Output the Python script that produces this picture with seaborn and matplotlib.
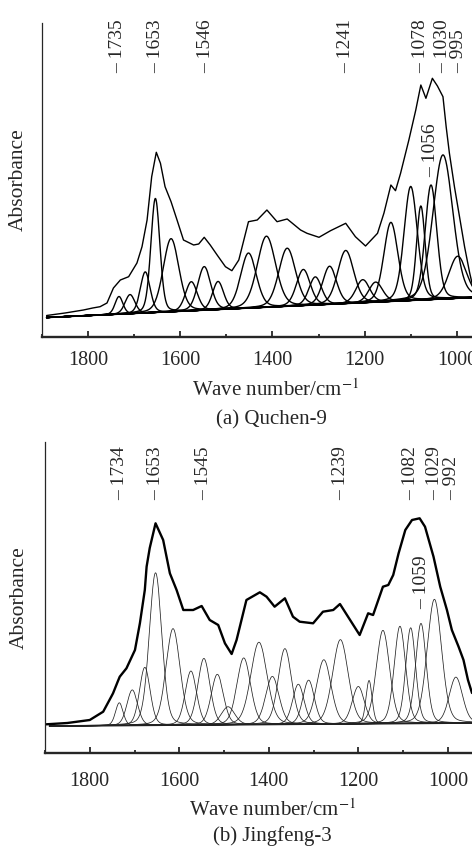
import numpy as np
import pandas as pd
import matplotlib
matplotlib.use('Agg')
import matplotlib.pyplot as plt
import seaborn as sns
from matplotlib.ticker import MultipleLocator

# ---- panel (a) Quchen-9 ----
env_a_wn = [1890, 1850, 1810, 1790, 1774, 1759, 1745, 1730, 1712, 1694, 1683, 1672, 1662, 1652,
            1643, 1633, 1620, 1607, 1593, 1571, 1560, 1548, 1535, 1520, 1502, 1488, 1473, 1452,
            1433, 1412, 1390, 1368, 1339, 1325, 1299, 1274, 1241, 1220, 1198, 1172, 1158, 1143,
            1133, 1122, 1104, 1089, 1078, 1067, 1053, 1042, 1030, 1023, 1016, 1005, 994, 983, 972, 965]
env_a_abs = [21.5, 24, 27, 29, 30.3, 34, 49, 57, 60.3, 74, 90.3, 117, 160.3, 184.7,
             173.7, 150.3, 135.3, 117, 97, 92, 93, 99.7, 92, 82, 70.3, 66.3, 77, 115.3,
             117, 127, 115.3, 118, 107, 103.7, 99.7, 106.3, 113.7, 100.3, 91, 103.7, 124, 152,
             146.3, 163.7, 197, 227, 252, 238.7, 258.7, 251, 240.3, 210, 183.7, 150, 120, 90, 64, 50]
base_a_wn = [1890, 965]
base_a_abs = [19.5, 39.5]
peak_a_center = [1733, 1709, 1676, 1654, 1620, 1576, 1548, 1518, 1452, 1413, 1368, 1333,
                 1307, 1276, 1241, 1204, 1176, 1143, 1100, 1078, 1056, 1030, 998]
peak_a_height = [17.6, 19, 41, 114, 73, 29, 43.5, 28, 55, 71, 58, 36,
                 28, 38, 53, 23, 20, 79, 114, 94, 114.5, 144, 42]
peak_a_fwhm = [20, 25, 25, 23, 40, 30, 33, 28, 40, 47, 43, 35,
               32, 35, 41, 35, 35, 36, 34, 22, 30, 51, 45]
label_a_wn = [1735, 1653, 1546, 1241, 1078, 1030, 995]
label_a_text = ['1735', '1653', '1546', '1241', '1078', '1030', '995']

# ---- panel (b) Jingfeng-3 ----
env_b_wn = [1897, 1850, 1800, 1770, 1752, 1748, 1737, 1733, 1718, 1699, 1688, 1677, 1673, 1666,
            1653, 1636, 1621, 1606, 1591, 1569, 1550, 1532, 1513, 1498, 1483, 1472, 1450, 1420,
            1405, 1387, 1364, 1346, 1331, 1301, 1279, 1256, 1241, 1223, 1197, 1178, 1167, 1145,
            1133, 1122, 1110, 1095, 1080, 1063, 1051, 1032, 1017, 1002, 991, 976, 965, 955, 946]
env_b_abs = [28.7, 30, 33, 41.3, 56.3, 59.7, 72, 76.3, 84.7, 103, 129.7, 163, 186.3, 205,
             229.7, 213, 179.7, 163, 143, 143, 147, 133, 128, 109.7, 99, 113, 153, 160.7,
             156.3, 146.3, 154.7, 136.3, 131.3, 129.7, 141.3, 143, 149, 136.3, 118, 139.7, 138, 166.3,
             168, 178, 199.7, 223, 233, 234.7, 226.3, 196.3, 166.3, 143, 123, 106.3, 93, 73, 60]
base_b_wn = [1890, 946]
base_b_abs = [27, 30]
peak_b_center = [1734, 1705, 1677, 1653, 1614, 1574, 1545, 1515, 1491, 1456, 1422, 1392, 1364,
                 1334, 1311, 1277, 1240, 1200, 1176, 1145, 1107, 1083, 1060, 1030, 982]
peak_b_height = [22.7, 35.5, 58, 152.5, 96.5, 54, 66.5, 50.5, 18, 66.7, 82.3, 48, 75.7,
                 40, 44, 64.3, 84.3, 37.3, 43.3, 93.3, 97.3, 95.7, 100, 124, 46]
peak_b_fwhm = [20, 28, 28, 33, 37, 30, 32, 32, 35, 36, 43, 35, 35,
               30, 30, 38, 41, 32, 16, 35, 30, 26, 28, 38, 35]
label_b_wn = [1734, 1653, 1545, 1239, 1082, 1029, 992]
label_b_text = ['1734', '1653', '1545', '1239', '1082', '1029', '992']


def peak(x, c, h, w, eta=0.2):
    g = np.exp(-4 * np.log(2) * ((x - c) / w) ** 2)
    l = 1 / (1 + 4 * ((x - c) / w) ** 2)
    return h * (eta * l + (1 - eta) * g)


sns.set_style('ticks')
plt.rcParams['font.family'] = ['Liberation Serif', 'DejaVu Serif']
plt.rcParams['mathtext.fontset'] = 'stix'
plt.rcParams['lines.solid_joinstyle'] = 'round'

fig = plt.figure(figsize=(4.72, 8.5), dpi=100)
ax_a = fig.add_axes([42 / 472, 513 / 850, 430 / 472, 314 / 850])
ax_b = fig.add_axes([45 / 472, 97 / 850, 427 / 472, 311 / 850])


def draw_panel(ax, env_wn, env_abs, base_wn, base_abs, centers, heights, fwhms,
               xright, ytop, env_lw, comp_lw, comp_color):
    x = np.linspace(base_wn[0], base_wn[1], 900)
    base = np.interp(x, base_wn[::-1], base_abs[::-1])
    sns.lineplot(x=x, y=base, ax=ax, color='black', lw=1.2)
    for c, h, w in zip(centers, heights, fwhms):
        sns.lineplot(x=x, y=base + peak(x, c, h, w), ax=ax, color=comp_color, lw=comp_lw)
    sns.lineplot(x=env_wn, y=env_abs, ax=ax, color='black', lw=env_lw)
    ax.set_xlim(1900, xright)
    ax.set_ylim(0, ytop)
    ax.set_yticks([])
    ax.xaxis.set_major_locator(MultipleLocator(200))
    ax.xaxis.set_minor_locator(MultipleLocator(100))
    ax.tick_params(axis='x', which='major', direction='in', length=4, width=1.3, labelsize=14.5)
    ax.tick_params(axis='x', which='minor', direction='in', length=2.5, width=1.3)
    ax.spines['top'].set_visible(False)
    ax.spines['right'].set_visible(False)
    ax.spines['bottom'].set_linewidth(1.7)
    ax.spines['left'].set_linewidth(0.9)
    ax.set_ylabel('Absorbance', fontsize=15.5)
    ax.set_xlabel('Wave number/cm$^{-1}$', fontsize=15)


draw_panel(ax_a, env_a_wn, env_a_abs, base_a_wn, base_a_abs,
           peak_a_center, peak_a_height, peak_a_fwhm, 967, 314, 1.0, 1.0, 'black')
draw_panel(ax_b, env_b_wn, env_b_abs, base_b_wn, base_b_abs,
           peak_b_center, peak_b_height, peak_b_fwhm, 946, 311, 1.7, 0.55, '#222222')

ax_a.tick_params(axis='x', which='major', pad=10)
ax_b.tick_params(axis='x', which='major', pad=14)
ax_a.yaxis.set_label_coords(-0.033, 0.5)
ax_b.yaxis.set_label_coords(-0.038, 0.5)
ax_a.xaxis.set_label_coords(0.544, -0.135)
ax_b.xaxis.set_label_coords(0.532, -0.150)

for wn, t in zip(label_a_wn, label_a_text):
    ax_a.text(wn, 264, '\u2013 ' + t, rotation=90, ha='center', va='bottom', fontsize=14)
ax_a.text(1056, 160, '\u2013 1056', rotation=90, ha='center', va='bottom', fontsize=14)
for wn, t in zip(label_b_wn, label_b_text):
    ax_b.text(wn, 253, '\u2013 ' + t, rotation=90, ha='center', va='bottom', fontsize=14)
ax_b.text(1059, 144, '\u2013 1059', rotation=90, ha='center', va='bottom', fontsize=14)

fig.text(271 / 472, 1 - 420 / 850, '(a) Quchen-9', ha='center', va='center', fontsize=15)
fig.text(272 / 472, 1 - 836 / 850, '(b) Jingfeng-3', ha='center', va='center', fontsize=15)

fig.savefig('out.png', dpi=100)
